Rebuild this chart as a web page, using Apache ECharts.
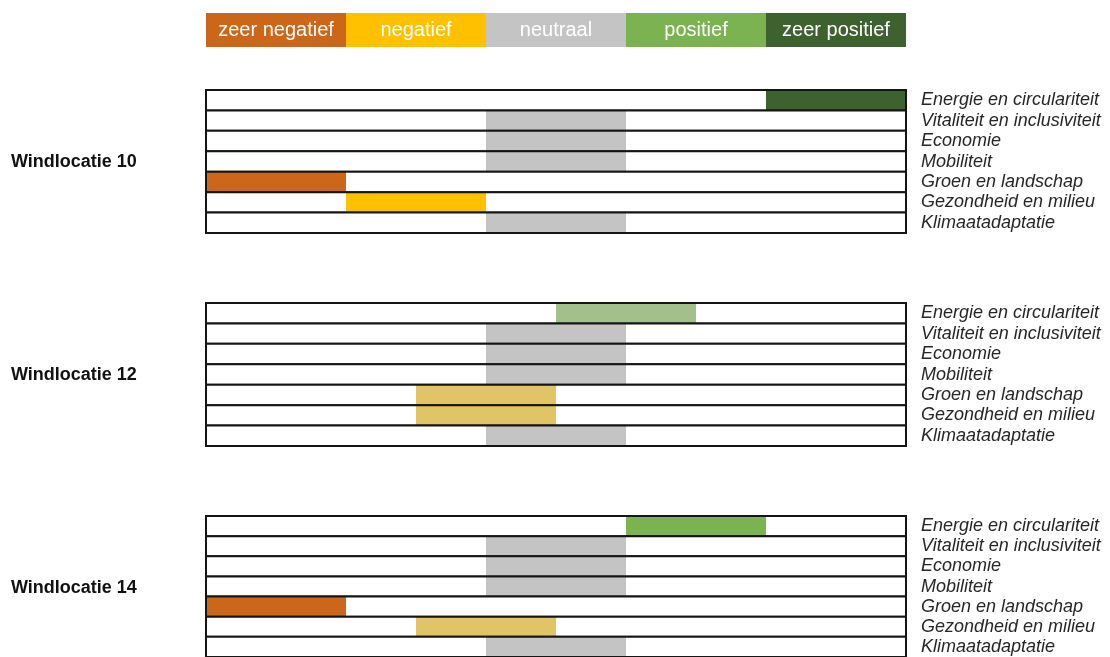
<!DOCTYPE html>
<html>
<head>
<meta charset="UTF-8"/>
<title>Windlocaties</title>
<script src="https://cdn.jsdelivr.net/npm/echarts@6/dist/echarts.min.js"></script>
<style>
html, body { margin: 0; padding: 0; background: #fff; }
#chart { width: 1110px; height: 657px; }
</style>
</head>
<body>
<div id="chart"></div>
<script type="text/javascript">
// categorieen en scores (1 = zeer negatief ... 5 = zeer positief, .5 = tussenin)
var scaleLabels = ['zeer negatief', 'negatief', 'neutraal', 'positief', 'zeer positief'];
var scaleValues = [1, 2, 3, 4, 5];
var criteria = ['Energie en circulariteit', 'Vitaliteit en inclusiviteit', 'Economie', 'Mobiliteit',
                'Groen en landschap', 'Gezondheid en milieu', 'Klimaatadaptatie'];
var locations = ['Windlocatie 10', 'Windlocatie 12', 'Windlocatie 14'];
var scores10 = [5, 3, 3, 3, 1, 2, 3];
var scores12 = [3.5, 3, 3, 3, 2.5, 2.5, 3];
var scores14 = [4, 3, 3, 3, 1, 2.5, 3];
var allScores = [scores10, scores12, scores14];

var colors = {
  '1': '#CC6619',
  '2': '#FFC000',
  '2.5': '#E1C565',
  '3': '#C4C4C4',
  '3.5': '#A1C08C',
  '4': '#7AB34F',
  '5': '#3E6130'
};
var FONT = 'Liberation Sans, Arial, sans-serif';
var X_MIN = 0.5, X_MAX = 5.5;

var myChart = echarts.init(document.getElementById('chart'));

function renderRow(params, api) {
  var score = api.value(0);
  var row = api.value(1);
  var h = api.size([0, 1])[1];
  var left = api.coord([X_MIN, row]);
  var right = api.coord([X_MAX, row]);
  var s = api.coord([score - 0.5, row]);
  var e = api.coord([score + 0.5, row]);
  var y0 = left[1] - h / 2;
  return {
    type: 'group',
    children: [
      { type: 'rect', shape: { x: left[0], y: y0, width: right[0] - left[0], height: h },
        style: { fill: '#fff' } },
      { type: 'rect', shape: { x: s[0], y: y0, width: e[0] - s[0], height: h },
        style: { fill: colors[String(score)] } },
      { type: 'rect', shape: { x: left[0], y: y0, width: right[0] - left[0], height: h },
        style: { fill: 'none', stroke: '#151515', lineWidth: 2 } }
    ]
  };
}

function renderLegend(params, api) {
  var v = api.value(0);
  var h = api.size([0, 1])[1];
  var s = api.coord([v - 0.5, 0]);
  var e = api.coord([v + 0.5, 0]);
  return {
    type: 'group',
    children: [
      { type: 'rect', shape: { x: s[0], y: s[1] - h / 2, width: e[0] - s[0], height: h },
        style: { fill: colors[String(v)] } },
      { type: 'text', x: (s[0] + e[0]) / 2, y: s[1],
        style: { text: scaleLabels[params.dataIndex], fill: '#fff', fontSize: 20,
                 fontFamily: FONT, align: 'center', verticalAlign: 'middle' } }
    ]
  };
}

var grids = [{ left: 206, width: 700, top: 13, height: 34 }];
var xAxes = [{ gridIndex: 0, type: 'value', min: X_MIN, max: X_MAX, show: false }];
var yAxes = [{ gridIndex: 0, type: 'category', data: ['legenda'], show: false }];
var series = [{
  type: 'custom', xAxisIndex: 0, yAxisIndex: 0,
  renderItem: renderLegend,
  data: scaleValues.map(function (v) { return [v, 0]; })
}];
var graphics = [];
var groupTops = [90, 303, 516];

locations.forEach(function (loc, i) {
  var gi = i + 1;
  grids.push({ left: 206, width: 700, top: groupTops[i], height: 143 });
  xAxes.push({ gridIndex: gi, type: 'value', min: X_MIN, max: X_MAX, show: false });
  yAxes.push({
    gridIndex: gi, type: 'category', data: criteria, inverse: true, position: 'right',
    axisLine: { show: false }, axisTick: { show: false }, splitLine: { show: false },
    axisLabel: { interval: 0, margin: 15, padding: [3, 0, 0, 0], color: '#262626',
                 fontSize: 18, fontStyle: 'italic', fontFamily: FONT }
  });
  series.push({
    type: 'custom', xAxisIndex: gi, yAxisIndex: gi,
    renderItem: renderRow,
    data: allScores[i].map(function (v, r) { return [v, r]; })
  });
  graphics.push({
    type: 'text', left: 11, top: groupTops[i] + 71.5 - 8,
    style: { text: loc, fontSize: 18, fontWeight: 'bold', fontFamily: FONT, fill: '#111' }
  });
});

var option = {
  animation: false,
  grid: grids,
  xAxis: xAxes,
  yAxis: yAxes,
  series: series,
  graphic: graphics
};
myChart.setOption(option, true);
</script>
</body>
</html>
